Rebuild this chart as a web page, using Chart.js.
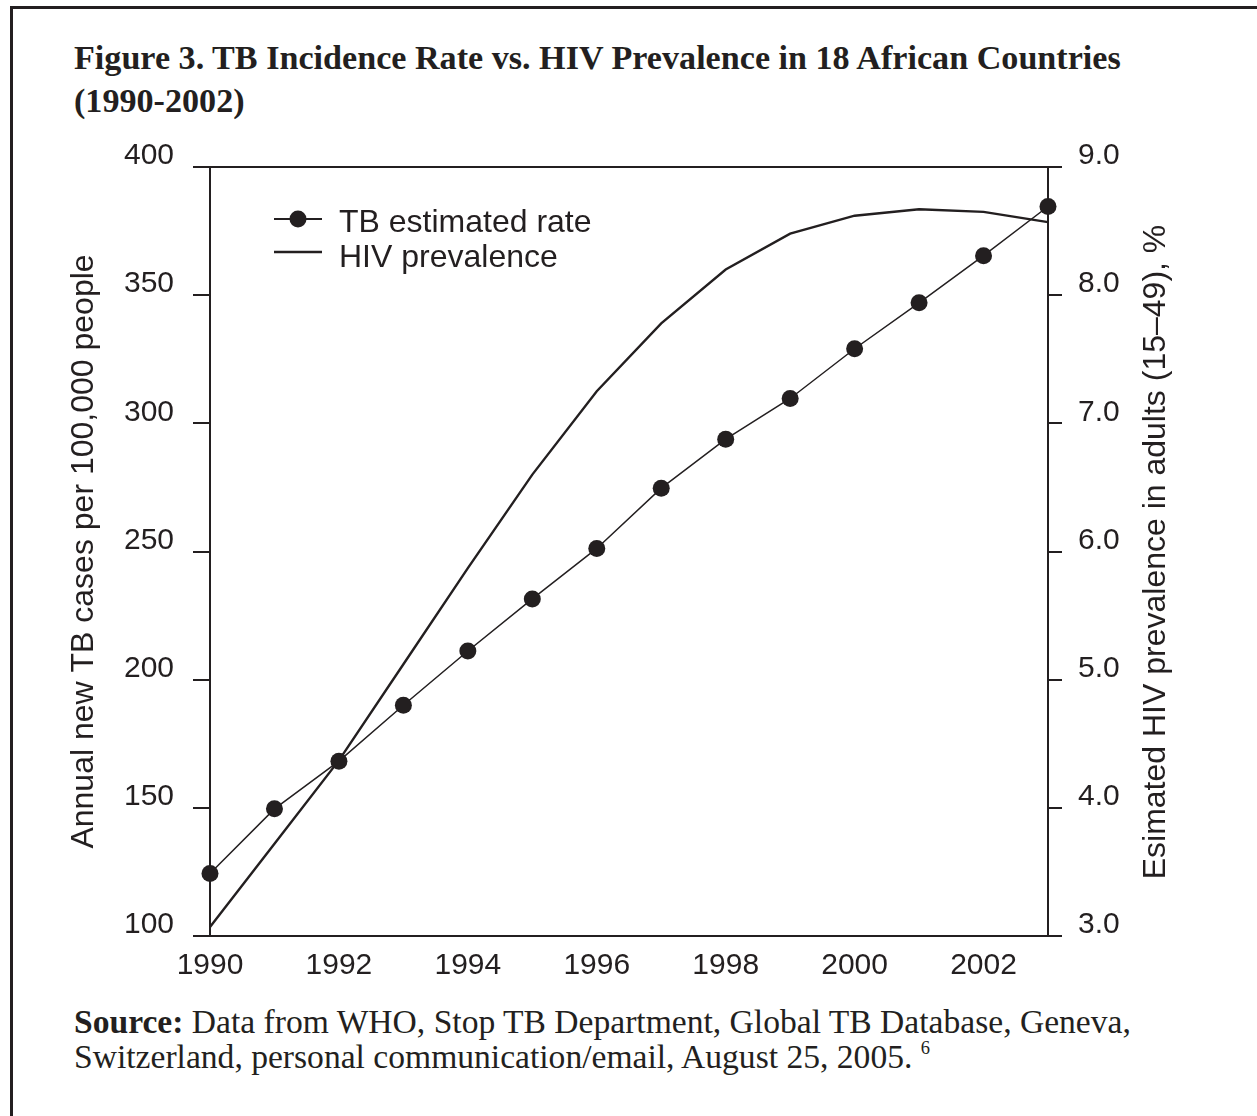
<!DOCTYPE html>
<html>
<head>
<meta charset="utf-8">
<title>Figure 3. TB Incidence Rate vs. HIV Prevalence</title>
<script src="https://cdn.jsdelivr.net/npm/chart.js@4.4.0/dist/chart.umd.min.js"></script>
<style>
    html, body { margin: 0; padding: 0; background: #fff; }
    body { width: 1257px; height: 1116px; position: relative; overflow: hidden; color: #231f20; }
    .frame {
        position: absolute; left: 10px; top: 6px; width: 1400px; height: 1300px;
        border-left: 3px solid #231f20; border-top: 3px solid #231f20;
    }
    .title {
        position: absolute; left: 74px; top: 30px;
        font-family: 'Liberation Serif', 'Times New Roman', serif; font-weight: bold;
        white-space: nowrap;
    }
    .source {
        position: absolute; left: 74px; top: 1005px;
        font-family: 'Liberation Serif', 'Times New Roman', serif;
        white-space: nowrap;
    }
    .source sup { font-size: 0.55em; line-height: 0; vertical-align: baseline; position: relative; top: -0.75em; }
    .line { display: inline-block; }
    #chart { position: absolute; left: 0; top: 130px; }
</style>
</head>
<body>
<div class="frame"></div>
<div class="title" id="title"><span class="line" id="titleLine">Figure 3. TB Incidence Rate vs. HIV Prevalence in 18 African Countries</span><br>(1990-2002)</div>
<canvas id="chart" width="1257" height="870"></canvas>
<div class="source" id="source"><span class="line" id="sourceLine"><b>Source:</b> Data from WHO, Stop TB Department, Global TB Database, Geneva,</span><br>Switzerland, personal communication/email, August 25, 2005. <sup>6</sup></div>

<script>
// data
const years = [1990, 1991, 1992, 1993, 1994, 1995, 1996, 1997, 1998, 1999, 2000, 2001, 2002, 2003];
const tbRate = [124.4, 149.6, 168.2, 190, 211.2, 231.5, 251.2, 274.7, 293.8, 309.7, 329.1, 347, 365.4, 384.6];
const hivPrevalence = [3.07, 3.72, 4.37, 5.12, 5.87, 6.60, 7.25, 7.78, 8.20, 8.48, 8.62, 8.67, 8.65, 8.57];
const yearLabels = [1990, 1992, 1994, 1996, 1998, 2000, 2002];
const seriesNames = ['TB estimated rate', 'HIV prevalence'];
const leftTitle = 'Annual new TB cases per 100,000 people';
const rightTitle = 'Esimated HIV prevalence in adults (15\u201349), %';

const INK = '#231f20';
const SANS = "'Liberation Sans', Arial, sans-serif";
const CANVAS_TOP = 130;

// size the serif text blocks so their first line matches the original width
function fitBlock(block, line, targetWidth, baseline, lineHeight) {
    block.style.fontSize = '30px';
    const w = line.getBoundingClientRect().width;
    const fs = 30 * targetWidth / w;
    block.style.fontSize = fs.toFixed(2) + 'px';
    block.style.lineHeight = lineHeight + 'px';
    block.style.top = (baseline - lineHeight / 2 - 0.3375 * fs).toFixed(1) + 'px';
}
fitBlock(document.getElementById('title'), document.getElementById('titleLine'), 1047, 69, 43);
fitBlock(document.getElementById('source'), document.getElementById('sourceLine'), 1057, 1033, 35);

// top border, legend and right axis title
const extrasPlugin = {
    id: 'extras',
    afterDraw(chart) {
        const ctx = chart.ctx;
        const area = chart.chartArea;
        ctx.save();
        ctx.strokeStyle = INK;
        ctx.fillStyle = INK;

        ctx.lineWidth = 2;
        ctx.beginPath();
        ctx.moveTo(area.left, area.top);
        ctx.lineTo(area.right, area.top);
        ctx.stroke();

        // legend
        const y1 = 219 - CANVAS_TOP;
        const y2 = 252 - CANVAS_TOP;
        ctx.beginPath();
        ctx.moveTo(274, y1);
        ctx.lineTo(322, y1);
        ctx.stroke();
        ctx.beginPath();
        ctx.arc(298, y1, 8.5, 0, Math.PI * 2);
        ctx.fill();
        ctx.lineWidth = 2.5;
        ctx.beginPath();
        ctx.moveTo(274, y2);
        ctx.lineTo(322, y2);
        ctx.stroke();

        ctx.font = '32px ' + SANS;
        ctx.textAlign = 'left';
        ctx.textBaseline = 'alphabetic';
        ctx.fillText(chart.data.datasets[0].label, 339, 232 - CANVAS_TOP);
        ctx.fillText(chart.data.datasets[1].label, 339, 267 - CANVAS_TOP);

        // right title reads bottom-to-top like the left one
        ctx.translate(1165, 552 - CANVAS_TOP);
        ctx.rotate(-Math.PI / 2);
        ctx.textAlign = 'center';
        ctx.fillText(rightTitle, 0, 0);
        ctx.restore();
    }
};

new Chart(document.getElementById('chart'), {
    type: 'line',
    data: {
        datasets: [{
            label: seriesNames[0],
            data: years.map((x, i) => ({ x, y: tbRate[i] })),
            yAxisID: 'y',
            borderColor: INK,
            borderWidth: 1.5,
            pointRadius: 8.5,
            pointBackgroundColor: INK,
            pointBorderWidth: 0,
            tension: 0,
            clip: false
        }, {
            label: seriesNames[1],
            data: years.map((x, i) => ({ x, y: hivPrevalence[i] })),
            yAxisID: 'y2',
            borderColor: INK,
            borderWidth: 2.4,
            pointRadius: 0,
            tension: 0,
            clip: false
        }]
    },
    options: {
        responsive: false,
        animation: false,
        layout: { padding: { top: 35, left: 0, right: 0, bottom: 0 } },
        plugins: {
            legend: { display: false },
            tooltip: { enabled: false }
        },
        scales: {
            x: {
                type: 'linear',
                min: 1990,
                max: 2003,
                grid: { display: false, drawTicks: false },
                border: { display: true, color: INK, width: 2 },
                ticks: {
                    stepSize: 1,
                    autoSkip: false,
                    maxRotation: 0,
                    padding: 12,
                    color: INK,
                    font: { family: SANS, size: 30 },
                    callback: v => yearLabels.includes(v) ? String(v) : null
                },
                afterFit: s => { s.height = 64; }
            },
            y: {
                position: 'left',
                min: 100,
                max: 400,
                grid: { drawOnChartArea: false, tickLength: 17, color: INK, lineWidth: 2 },
                border: { display: true, color: INK, width: 2 },
                ticks: {
                    stepSize: 50,
                    padding: 19,
                    labelOffset: -11,
                    color: INK,
                    font: { family: SANS, size: 30 }
                },
                title: {
                    display: true,
                    text: leftTitle,
                    color: INK,
                    font: { family: SANS, size: 32 },
                    padding: { top: 65, bottom: 0 }
                },
                afterFit: s => { s.width = 210; }
            },
            y2: {
                position: 'right',
                min: 3,
                max: 9,
                grid: { drawOnChartArea: false, tickLength: 14, color: INK, lineWidth: 2 },
                border: { display: true, color: INK, width: 2 },
                ticks: {
                    stepSize: 1,
                    padding: 16,
                    labelOffset: -11,
                    color: INK,
                    font: { family: SANS, size: 30 },
                    callback: v => v.toFixed(1)
                },
                afterFit: s => { s.width = 209; }
            }
        }
    },
    plugins: [extrasPlugin]
});
</script>
</body>
</html>
